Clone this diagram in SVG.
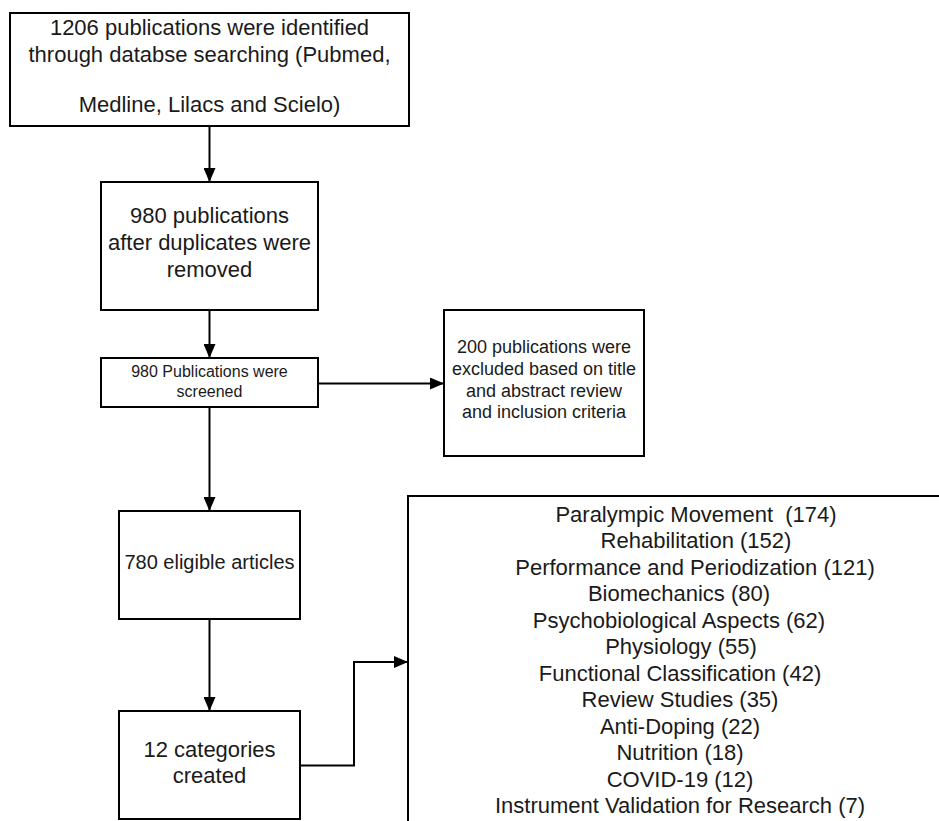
<svg xmlns="http://www.w3.org/2000/svg" width="939" height="821" viewBox="0 0 939 821">
<style>
  .box { fill: #ffffff; stroke: #000000; stroke-width: 2; }
  .t { font-family: "Liberation Sans", Arial, sans-serif; fill: #1a1a1a; text-anchor: middle; }
  .f22 { font-size: 22px; }
  .f20 { font-size: 20px; }
  .f18 { font-size: 18px; }
  .f16 { font-size: 16px; }
  .edge { fill: none; stroke: #000000; stroke-width: 2; }
</style>
<defs>
  <marker id="arrow" markerUnits="userSpaceOnUse" markerWidth="14" markerHeight="12" viewBox="0 0 14 12" refX="14" refY="6" orient="auto">
    <path d="M0,0 L14,6 L0,12 Z" fill="#000000"/>
  </marker>
</defs>
<rect width="939" height="821" fill="#ffffff"/>

<g id="connectors">
  <path class="edge" d="M209.5,126 L209.5,182" marker-end="url(#arrow)"/>
  <path class="edge" d="M209.5,310 L209.5,358" marker-end="url(#arrow)"/>
  <path class="edge" d="M318,383.5 L444,383.5" marker-end="url(#arrow)"/>
  <path class="edge" d="M209.5,407 L209.5,511" marker-end="url(#arrow)"/>
  <path class="edge" d="M209.5,619 L209.5,711" marker-end="url(#arrow)"/>
  <path class="edge" d="M300,765.5 L354,765.5 L354,662 L408,662" marker-end="url(#arrow)"/>
</g>

<g id="identified">
  <rect class="box" x="10" y="13" width="399" height="113"/>
  <text class="t f22" x="209.5" y="35">1206 publications were identified</text>
  <text class="t f22" x="209.5" y="62">through databse searching (Pubmed,</text>
  <text class="t f22" x="209.5" y="112">Medline, Lilacs and Scielo)</text>
</g>

<g id="duplicates">
  <rect class="box" x="101" y="182" width="217" height="128"/>
  <text class="t f22" x="209.5" y="223">980 publications</text>
  <text class="t f22" x="209.5" y="250">after duplicates were</text>
  <text class="t f22" x="209.5" y="277">removed</text>
</g>

<g id="screened">
  <rect class="box" x="101" y="358" width="217" height="49"/>
  <text class="t f16" x="209.5" y="377">980 Publications were</text>
  <text class="t f16" x="209.5" y="397">screened</text>
</g>

<g id="excluded">
  <rect class="box" x="444" y="310" width="200" height="146"/>
  <text class="t f18" x="544" y="353">200 publications were</text>
  <text class="t f18" x="544" y="375">excluded based on title</text>
  <text class="t f18" x="544" y="397">and abstract review</text>
  <text class="t f18" x="544" y="418">and inclusion criteria</text>
</g>

<g id="eligible">
  <rect class="box" x="119" y="511" width="181" height="108"/>
  <text class="t f20" x="209.5" y="569">780 eligible articles</text>
</g>

<g id="categories">
  <rect class="box" x="119" y="711" width="181" height="108"/>
  <text class="t f22" x="209.5" y="757">12 categories</text>
  <text class="t f22" x="209.5" y="783">created</text>
</g>

<g id="category-list">
  <rect class="box" x="408" y="496" width="560" height="360"/>
  <text class="t f22" x="696" y="521.5" xml:space="preserve">Paralympic Movement  (174)</text>
  <text class="t f22" x="696" y="548">Rehabilitation (152)</text>
  <text class="t f22" x="695" y="574.5">Performance and Periodization (121)</text>
  <text class="t f22" x="679" y="601">Biomechanics (80)</text>
  <text class="t f22" x="679" y="627.5">Psychobiological Aspects (62)</text>
  <text class="t f22" x="681" y="654">Physiology (55)</text>
  <text class="t f22" x="680" y="680.5">Functional Classification (42)</text>
  <text class="t f22" x="680" y="707">Review Studies (35)</text>
  <text class="t f22" x="680" y="733.5">Anti-Doping (22)</text>
  <text class="t f22" x="680" y="760">Nutrition (18)</text>
  <text class="t f22" x="680" y="786.5">COVID-19 (12)</text>
  <text class="t f22" x="680" y="813">Instrument Validation for Research (7)</text>
</g>
</svg>
